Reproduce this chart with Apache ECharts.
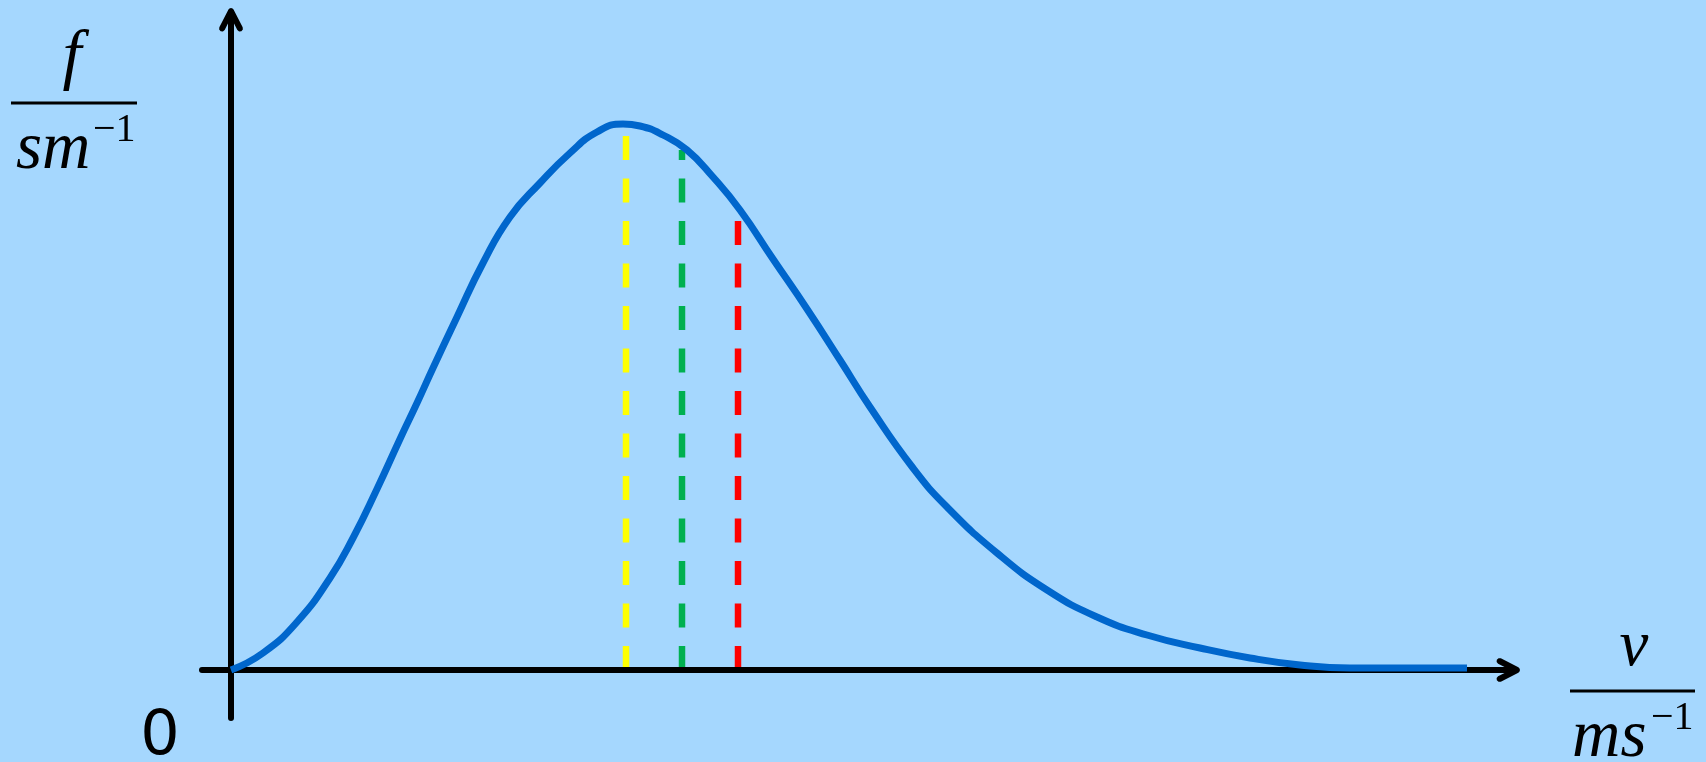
<!DOCTYPE html>
<html>
<head>
<meta charset="utf-8">
<style>
  html, body { margin: 0; padding: 0; background: #A5D7FE; }
  #chart { width: 1706px; height: 762px; }
</style>
<script src="https://cdn.jsdelivr.net/npm/echarts@6/dist/echarts.min.js"></script>
</head>
<body>
<div id="chart"></div>
<script>
// Maxwell speed distribution curve (speed v, probability density f)
const speed = [0, 3.2, 6.6, 9.9, 12.2, 14.6, 16.9, 18.6, 20.2, 22.6, 25.2, 27.9, 30.9, 33.9, 36.6,
  39.2, 40.9, 43.2, 45.6, 48.2, 50.9, 54.2, 57.6, 60.9, 63.9, 68.2, 71.6, 76.6, 81.6, 86.6,
  91.6, 96.9, 101.9, 106.9, 111.9, 123.6];
const density = [0, 1.7, 4.8, 9.2, 13.2, 18.1, 23.1, 26.7, 30.2, 35.3, 40.7, 45.3, 48.7, 51.7, 53.8,
  54.6, 54.4, 53.5, 52.0, 49.3, 46.0, 41.1, 36.1, 31.0, 26.3, 20.2, 16.3, 11.7, 8.0, 5.3,
  3.5, 2.2, 1.2, 0.5, 0.2, 0.2];

// Characteristic speeds: most probable, mean, root-mean-square
const markSpeeds = [39.5, 45.1, 50.7];
const markHeights = [53.5, 52.0, 45.0];
const markColors = ['#FFFF00', '#00B050', '#FF0000'];

// Open chevron arrow head (tip up), used at the end of both axes
const chevron = 'path://M12 0 L13.563 0.439 L14.667 1.629 L23.667 19.129 L23.855 21.416 L22.371 23.167 ' +
  'L20.084 23.355 L18.333 21.871 L12 9.559 L5.667 21.871 L3.916 23.355 L1.629 23.167 L0.145 21.416 ' +
  'L0.333 19.129 L9.333 1.629 L10.437 0.439 Z';

const curveData = speed.map((v, i) => [v, density[i]]);

const markSeries = markSpeeds.map((v, i) => ({
  type: 'line',
  z: 2,
  silent: true,
  showSymbol: false,
  animation: false,
  data: [[v, 0], [v, markHeights[i]]],
  lineStyle: { color: markColors[i], width: 6.5, type: [24, 18.5], cap: 'butt' }
}));

const axisCommon = {
  type: 'value',
  z: 3,
  axisLine: {
    show: true,
    onZero: true,
    symbol: ['none', chevron],
    symbolSize: [23.71, 23.355],
    lineStyle: { color: '#000', width: 6 }
  },
  axisTick: { show: false },
  axisLabel: { show: false },
  splitLine: { show: false }
};

const serif = '"Liberation Serif", "Times New Roman", serif';

const chart = echarts.init(document.getElementById('chart'), null, { renderer: 'canvas' });
chart.setOption({
  backgroundColor: '#A5D7FE',
  animation: false,
  grid: { left: 202, top: 12, width: 1313, height: 706, containLabel: false },
  xAxis: Object.assign({}, axisCommon, {
    min: -2.9, max: 128.4,
    axisLine: Object.assign({}, axisCommon.axisLine, { symbolOffset: [0, -6.7] })
  }),
  yAxis: Object.assign({}, axisCommon, {
    min: -4.8, max: 65.8,
    axisLine: Object.assign({}, axisCommon.axisLine, { symbolOffset: [0, -7.7] })
  }),
  series: markSeries.concat([{
    type: 'line',
    z: 5,
    silent: true,
    showSymbol: false,
    smooth: 0.5,
    data: curveData,
    lineStyle: { color: '#0066CC', width: 7, cap: 'butt' }
  }]),
  graphic: [
    // y-axis quantity: f / (s m^-1)
    { type: 'text', x: 72, y: 59, style: { text: 'f', font: 'italic 68px ' + serif, fill: '#000', align: 'center', verticalAlign: 'middle' } },
    { type: 'line', shape: { x1: 11, y1: 103, x2: 137, y2: 103 }, style: { stroke: '#000', lineWidth: 3 } },
    { type: 'text', x: 16, y: 150, style: { text: 'sm', font: 'italic 67px ' + serif, fill: '#000', align: 'left', verticalAlign: 'middle' } },
    { type: 'text', x: 93, y: 130, style: { text: '\u22121', font: '40px ' + serif, fill: '#000', align: 'left', verticalAlign: 'middle' } },
    // x-axis quantity: v / (m s^-1)
    { type: 'text', x: 1634, y: 648, style: { text: 'v', font: 'italic 65px ' + serif, fill: '#000', align: 'center', verticalAlign: 'middle' } },
    { type: 'line', shape: { x1: 1570, y1: 691, x2: 1695, y2: 691 }, style: { stroke: '#000', lineWidth: 3 } },
    { type: 'text', x: 1572, y: 738, style: { text: 'ms', font: 'italic 67px ' + serif, fill: '#000', align: 'left', verticalAlign: 'middle' } },
    { type: 'text', x: 1651, y: 718, style: { text: '\u22121', font: '40px ' + serif, fill: '#000', align: 'left', verticalAlign: 'middle' } },
    // origin
    { type: 'text', x: 160, y: 738, style: { text: '0', font: '62px "DejaVu Sans", sans-serif', fill: '#000', align: 'center', verticalAlign: 'middle' } }
  ]
});
</script>
</body>
</html>
